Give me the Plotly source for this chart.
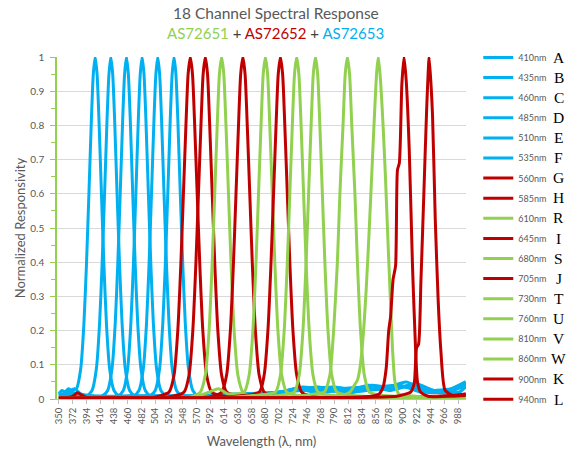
import plotly.graph_objects as go

BLUE = "#00B0F0"
RED = "#C00000"
GREEN = "#92D050"
GRAY = "#595959"

# ---- data (wavelength nm, normalized responsivity) ----
wl_410 = [350, 355, 360, 365, 371, 378, 385, 390, 394, 398, 402, 405, 408, 411, 414, 418, 422, 426, 431, 438, 446,
          470, 500, 540, 580, 620, 660, 700, 740, 780, 820, 860, 900, 940, 980, 1000]
r_410 = [0.015, 0.025, 0.02, 0.03, 0.025, 0.03, 0.09, 0.22, 0.39, 0.6, 0.82, 0.95, 1.0, 0.95, 0.82, 0.6, 0.39, 0.22, 0.09, 0.025, 0.01,
         0.01, 0.008, 0.006, 0.008, 0.012, 0.015, 0.02, 0.025, 0.03, 0.02, 0.03, 0.035, 0.025, 0.03, 0.04]

wl_435 = [350, 360, 370, 380, 395, 403, 410, 415, 419, 423, 427, 430, 433, 436, 439, 443, 447, 451, 456, 463, 471,
          495, 550, 600, 650, 700, 730, 760, 800, 850, 880, 910, 950, 990, 1000]
r_435 = [0.01, 0.015, 0.02, 0.015, 0.01, 0.025, 0.09, 0.22, 0.39, 0.6, 0.82, 0.95, 1.0, 0.95, 0.82, 0.6, 0.39, 0.22, 0.09, 0.025, 0.01,
         0.01, 0.006, 0.008, 0.012, 0.018, 0.03, 0.02, 0.03, 0.035, 0.025, 0.04, 0.02, 0.02, 0.045]

wl_460 = [350, 365, 375, 385, 410, 420, 428, 435, 440, 444, 448, 452, 455, 458, 461, 464, 468, 472, 476, 481, 488, 496,
          520, 580, 640, 690, 740, 780, 820, 850, 890, 920, 960, 1000]
r_460 = [0.012, 0.02, 0.03, 0.015, 0.008, 0.01, 0.025, 0.09, 0.22, 0.39, 0.6, 0.82, 0.95, 1.0, 0.95, 0.82, 0.6, 0.39, 0.22, 0.09, 0.025, 0.01,
         0.01, 0.006, 0.01, 0.015, 0.035, 0.025, 0.02, 0.04, 0.03, 0.045, 0.018, 0.05]

wl_485 = [350, 370, 390, 430, 445, 453, 460, 465, 469, 473, 477, 480, 483, 486, 489, 493, 497, 501, 506, 513, 521,
          545, 600, 660, 710, 750, 790, 830, 870, 905, 940, 980, 1000]
r_485 = [0.01, 0.015, 0.01, 0.008, 0.01, 0.025, 0.09, 0.22, 0.39, 0.6, 0.82, 0.95, 1.0, 0.95, 0.82, 0.6, 0.39, 0.22, 0.09, 0.025, 0.01,
         0.01, 0.008, 0.012, 0.02, 0.03, 0.035, 0.025, 0.03, 0.05, 0.02, 0.025, 0.04]

wl_510 = [350, 380, 420, 455, 470, 478, 485, 490, 494, 498, 502, 505, 508, 511, 514, 518, 522, 526, 531, 538, 546,
          570, 620, 680, 720, 765, 800, 845, 880, 915, 950, 990, 1000]
r_510 = [0.008, 0.01, 0.006, 0.008, 0.01, 0.025, 0.09, 0.22, 0.39, 0.6, 0.82, 0.95, 1.0, 0.95, 0.82, 0.6, 0.39, 0.22, 0.09, 0.025, 0.01,
         0.01, 0.01, 0.015, 0.025, 0.035, 0.02, 0.04, 0.03, 0.04, 0.025, 0.02, 0.035]

wl_535 = [350, 400, 480, 496, 504, 511, 516, 520, 524, 528, 531, 534, 537, 540, 544, 548, 552, 557, 564, 572,
          595, 640, 700, 735, 775, 810, 855, 895, 930, 970, 1000]
r_535 = [0.006, 0.006, 0.006, 0.01, 0.025, 0.09, 0.22, 0.39, 0.6, 0.82, 0.95, 1.0, 0.95, 0.82, 0.6, 0.39, 0.22, 0.09, 0.025, 0.01,
         0.012, 0.015, 0.02, 0.03, 0.02, 0.03, 0.035, 0.04, 0.02, 0.025, 0.05]

wl_560 = [350, 370, 380, 386, 395, 450, 500, 526, 534, 540, 545, 549, 553, 556.5, 560, 563.5, 567, 571, 575, 580, 586, 594,
          620, 700, 800, 900, 960, 1000]
r_560 = [0.004, 0.006, 0.018, 0.012, 0.004, 0.003, 0.004, 0.02, 0.07, 0.2, 0.4, 0.6, 0.8, 0.95, 1.0, 0.95, 0.8, 0.6, 0.4, 0.2, 0.07, 0.02,
         0.006, 0.004, 0.004, 0.005, 0.004, 0.01]

wl_585 = [350, 450, 520, 550, 558, 564, 569, 573, 577, 580.5, 584, 587.5, 591, 595, 599, 604, 610, 618,
          650, 750, 850, 950, 1000]
r_585 = [0.003, 0.003, 0.004, 0.02, 0.07, 0.2, 0.4, 0.6, 0.8, 0.95, 1.0, 0.95, 0.8, 0.6, 0.4, 0.2, 0.07, 0.02,
         0.006, 0.004, 0.005, 0.006, 0.015]

wl_610 = [350, 500, 560, 576, 584, 590, 595, 599, 603, 606.5, 610, 613.5, 617, 621, 625, 630, 636, 644,
          660, 700, 800, 900, 1000]
r_610 = [0.002, 0.002, 0.005, 0.02, 0.07, 0.2, 0.4, 0.6, 0.8, 0.95, 1.0, 0.95, 0.8, 0.6, 0.4, 0.2, 0.07, 0.02,
         0.008, 0.005, 0.004, 0.004, 0.006]

wl_645 = [350, 500, 590, 610, 618, 624, 629, 633, 637, 640.5, 644, 647.5, 651, 655, 659, 664, 670, 678,
          700, 800, 900, 1000]
r_645 = [0.003, 0.003, 0.005, 0.02, 0.07, 0.2, 0.4, 0.6, 0.8, 0.95, 1.0, 0.95, 0.8, 0.6, 0.4, 0.2, 0.07, 0.02,
         0.006, 0.004, 0.006, 0.01]

wl_680 = [350, 560, 590, 605, 620, 646, 654, 660, 665, 669, 673, 676.5, 680, 683.5, 687, 691, 695, 700, 706, 714,
          740, 800, 900, 1000]
r_680 = [0.002, 0.003, 0.02, 0.03, 0.015, 0.02, 0.07, 0.2, 0.4, 0.6, 0.8, 0.95, 1.0, 0.95, 0.8, 0.6, 0.4, 0.2, 0.07, 0.02,
         0.008, 0.005, 0.004, 0.006]

wl_705 = [350, 600, 670, 678, 684, 689, 693, 697, 700.5, 704, 707.5, 711, 715, 719, 724, 730, 738,
          760, 850, 950, 1000]
r_705 = [0.003, 0.004, 0.02, 0.07, 0.2, 0.4, 0.6, 0.8, 0.95, 1.0, 0.95, 0.8, 0.6, 0.4, 0.2, 0.07, 0.02,
         0.006, 0.005, 0.005, 0.012]

wl_730 = [350, 600, 660, 696, 704, 710, 715, 719, 723, 726.5, 730, 733.5, 737, 741, 745, 750, 756, 764,
          790, 850, 1000]
r_730 = [0.002, 0.003, 0.01, 0.02, 0.07, 0.2, 0.4, 0.6, 0.8, 0.95, 1.0, 0.95, 0.8, 0.6, 0.4, 0.2, 0.07, 0.02,
         0.01, 0.005, 0.005]

wl_760 = [350, 650, 700, 726, 734, 740, 745, 749, 753, 756.5, 760, 763.5, 767, 771, 775, 780, 786, 794,
          820, 900, 1000]
r_760 = [0.002, 0.003, 0.01, 0.02, 0.07, 0.2, 0.4, 0.6, 0.8, 0.95, 1.0, 0.95, 0.8, 0.6, 0.4, 0.2, 0.07, 0.02,
         0.01, 0.005, 0.005]

wl_810 = [350, 700, 760, 774, 783, 789, 795, 799, 804, 807.5, 811, 814.5, 818, 823, 827, 832, 838, 846,
          870, 950, 1000]
r_810 = [0.002, 0.004, 0.015, 0.02, 0.07, 0.2, 0.4, 0.6, 0.8, 0.95, 1.0, 0.95, 0.8, 0.6, 0.4, 0.2, 0.07, 0.02,
         0.01, 0.005, 0.005]

wl_860 = [350, 750, 800, 815, 822, 827, 831, 836, 841, 846, 851, 855, 858, 860.5, 864, 868, 872, 875, 879, 883, 887, 893,
          920, 1000]
r_860 = [0.002, 0.004, 0.01, 0.02, 0.04, 0.055, 0.09, 0.18, 0.32, 0.5, 0.7, 0.86, 0.96, 1.0, 0.93, 0.8, 0.64, 0.5, 0.32, 0.15, 0.05, 0.015,
         0.008, 0.005]

wl_900 = [350, 700, 820, 850, 862, 868, 873, 877, 880, 884, 888, 891, 894, 898, 901.5, 905, 909.8, 915, 919, 923, 928,
          940, 1000]
r_900 = [0.003, 0.004, 0.005, 0.008, 0.015, 0.035, 0.09, 0.2, 0.24, 0.35, 0.39, 0.67, 0.69, 0.92, 1.0, 0.93, 0.73, 0.39, 0.19, 0.05, 0.02,
         0.008, 0.01]

wl_940 = [350, 800, 890, 905, 912, 917.8, 921.5, 924.7, 928.4, 933.7, 937.5, 941.7, 947, 951.3, 956, 960.3, 967,
          980, 1000]
r_940 = [0.003, 0.004, 0.008, 0.015, 0.02, 0.046, 0.15, 0.16, 0.34, 0.63, 0.84, 1.0, 0.83, 0.53, 0.29, 0.143, 0.026,
         0.01, 0.015]

channel_names = ["410nm", "435nm", "460nm", "485nm", "510nm", "535nm", "560nm", "585nm", "610nm",
                 "645nm", "680nm", "705nm", "730nm", "760nm", "810nm", "860nm", "900nm", "940nm"]
channel_letters = ["A", "B", "C", "D", "E", "F", "G", "H", "R", "I", "S", "J", "T", "U", "V", "W", "K", "L"]
channel_x = [wl_410, wl_435, wl_460, wl_485, wl_510, wl_535, wl_560, wl_585, wl_610,
             wl_645, wl_680, wl_705, wl_730, wl_760, wl_810, wl_860, wl_900, wl_940]
channel_y = [r_410, r_435, r_460, r_485, r_510, r_535, r_560, r_585, r_610,
             r_645, r_680, r_705, r_730, r_760, r_810, r_860, r_900, r_940]
channel_colors = [BLUE] * 6 + [RED, RED, GREEN, RED, GREEN, RED, GREEN, GREEN, GREEN, GREEN, RED, RED]

x_ticks = list(range(350, 989, 22))

FONT = "Lato, 'Open Sans', sans-serif"

fig = go.Figure()
for i, name in enumerate(channel_names):
    fig.add_trace(go.Scatter(
        x=channel_x[i], y=channel_y[i], name=name, mode="lines",
        line=dict(color=channel_colors[i], width=3, shape="spline", smoothing=0.6),
        legendgroup=name,
    ))

n = len(channel_names)
annotations = []
for i, letter in enumerate(channel_letters):
    annotations.append(dict(
        text=letter, xref="paper", yref="y", x=1.227, y=1 - i / (n - 1),
        showarrow=False, xanchor="center", yanchor="middle",
        font=dict(family="'Liberation Serif', serif", size=15.5, color="#000000"),
    ))

annotations.append(dict(
    text="18 Channel Spectral Response", xref="paper", yref="paper",
    x=0.535, y=1.13, showarrow=False, xanchor="center", yanchor="middle",
    font=dict(family=FONT, size=15.5, color=GRAY),
))
annotations.append(dict(
    text=("<span style='color:%s'>AS72651</span> + <span style='color:%s'>AS72652</span>"
          " + <span style='color:%s'>AS72653</span>") % (GREEN, RED, BLUE),
    xref="paper", yref="paper", x=0.535, y=1.07, showarrow=False,
    xanchor="center", yanchor="middle",
    font=dict(family=FONT, size=15, color="#404040"),
))

fig.update_layout(
    width=567, height=452,
    margin=dict(l=57, r=101, t=57, b=53, autoexpand=False),
    paper_bgcolor="white", plot_bgcolor="white",
    font=dict(family=FONT, color=GRAY, size=10),
    showlegend=True,
    legend=dict(
        x=1.03, y=1.041, xanchor="left", yanchor="top",
        font=dict(family=FONT, size=9, color=GRAY),
        tracegroupgap=1.1, itemwidth=30, bgcolor="rgba(0,0,0,0)",
        maxheight=440,
    ),
    annotations=annotations,
)

fig.update_xaxes(
    range=[347, 1000.5], tickmode="array", tickvals=x_ticks,
    ticktext=[str(v) for v in x_ticks], tickangle=-90,
    tickfont=dict(size=9.5, color=GRAY),
    showgrid=False, zeroline=False,
    showline=True, linecolor="#BFBFBF", linewidth=1,
    ticks="outside", ticklen=4, tickcolor="#BFBFBF",
    title=dict(text="Wavelength (λ, nm)", font=dict(size=13, color=GRAY), standoff=13),
)
fig.update_yaxes(
    range=[0, 1], dtick=0.1, tick0=0,
    tickfont=dict(size=10, color=GRAY),
    showgrid=True, gridcolor="#D9D9D9", gridwidth=1, zeroline=False,
    showline=True, linecolor=GREEN, linewidth=1.5,
    ticks="outside", ticklen=5, tickcolor=GREEN, ticklabelstandoff=4,
    minor=dict(dtick=0.05, ticks="outside", ticklen=4, tickcolor=GREEN, showgrid=False),
    title=dict(text="Normalized Responsivity", font=dict(size=13, color=GRAY), standoff=2),
)

fig.write_html("out.html", config={"displayModeBar": False},
               post_script="document.body.style.margin='0px';")
